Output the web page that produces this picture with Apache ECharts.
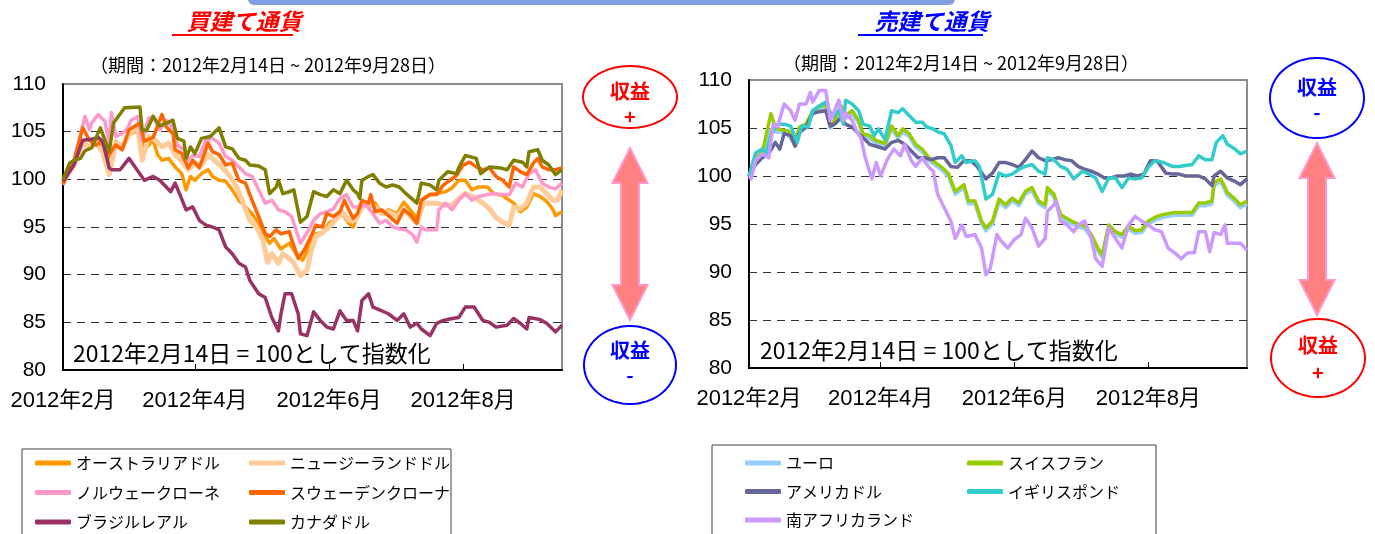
<!DOCTYPE html>
<html><head><meta charset="utf-8">
<script src="https://cdn.jsdelivr.net/npm/echarts@6/dist/echarts.min.js"></script>
<style>html,body{margin:0;padding:0;background:#fff}#c{width:1375px;height:534px}</style>
</head><body><div id="c"></div>
<script>
// ---- data (x = days since 2012-02-14, y = index, 2012-02-14 = 100) ----
const startDate = '2012-02-14';
const endDate = '2012-09-28';
const xTickDates = ['2012-02-14','2012-04-14','2012-06-14','2012-08-14'];
const yTicks = [80, 85, 90, 95, 100, 105, 110];

// 買建て通貨
const audDays = [0,5,9,12,15,18,21,24,27,30,35,37,41,43,45,48,51,54,56,58,60,63,66,68,71,74,77,80,83,86,89,92,94,96,99,103,106,109,112,115,118,121,124,127,130,132,134,136,139,142,145,148,152,155,158,161,164,167,170,174,177,180,183,186,189,193,196,200,205,208,211,214,217,220,223,224,227];
const audVals = [99.9,101.7,104.0,103.4,104.1,103.4,102.0,104.0,103.4,104.7,105.2,103.1,104.1,102.6,102.0,102.2,101.3,100.6,98.9,100.3,99.9,100.6,101.0,100.3,99.9,99.8,98.9,97.8,97.1,96.4,95.4,94.0,93.3,93.8,92.7,93.3,92.2,91.5,92.9,94.3,94.4,95.4,95.8,96.4,95.4,95.0,96.1,97.5,97.1,97.5,96.4,96.8,96.4,97.6,96.8,95.9,98.0,98.4,98.5,98.7,99.1,99.9,99.9,98.9,99.2,99.2,98.5,98.3,97.5,96.6,97.1,98.5,98.2,97.7,96.8,96.2,96.6];
const nzdDays = [0,5,9,12,15,18,21,24,27,30,34,36,39,42,45,48,51,54,57,60,63,66,69,73,76,79,82,85,88,91,93,95,98,100,103,105,108,111,113,115,118,121,124,127,130,133,136,139,142,145,148,152,155,158,161,164,167,170,174,177,180,183,188,191,194,197,200,203,205,208,211,214,217,220,223,225,227];
const nzdVals = [99.8,101.5,103.8,103.3,103.8,102.9,100.5,103.8,103.4,104.7,105.5,102.0,104.5,104.1,103.4,103.8,102.6,102.0,101.0,101.7,101.5,102.6,102.0,101.1,100.3,99.2,97.5,95.7,95.0,93.6,91.3,92.2,91.2,92.2,91.7,91.2,89.9,90.5,92.6,94.0,94.4,95.0,95.7,96.6,95.7,95.7,97.1,97.5,97.1,96.4,96.6,96.1,96.9,96.1,95.4,97.5,97.5,97.5,97.3,97.3,98.0,98.5,98.0,97.5,96.9,96.0,95.5,95.2,97.1,96.9,97.5,99.2,99.2,98.5,97.8,97.8,98.9];
const nokDays = [0,5,10,12,13,16,19,21,22,24,26,29,31,34,36,39,41,44,47,50,52,55,57,59,62,65,68,71,74,77,80,83,86,89,92,95,98,101,104,108,111,114,117,120,123,126,129,132,135,138,141,144,147,150,153,156,159,161,163,165,170,171,174,177,180,183,186,189,193,196,199,203,206,209,212,215,218,221,224,227];
const nokVals = [99.4,102.0,106.6,105.2,105.9,106.8,106.1,103.8,107.0,104.5,104.7,105.2,106.2,106.6,104.1,106.4,106.6,105.2,106.2,105.4,103.6,103.1,102.0,102.5,102.4,104.1,104.3,103.8,102.4,102.0,101.3,100.6,100.3,98.9,97.5,97.8,96.8,96.6,96.1,93.3,94.4,95.7,96.4,96.6,96.9,98.0,98.4,97.1,97.1,97.3,96.4,95.4,95.7,95.0,94.8,94.7,94.2,93.4,95.0,94.7,94.7,96.8,97.5,96.8,97.8,98.5,97.8,98.2,98.4,98.5,98.4,98.4,99.6,99.2,100.6,101.0,99.6,99.2,99.0,99.6];
const sekDays = [0,5,9,12,15,18,21,24,27,30,35,37,41,45,47,50,51,54,57,59,62,66,68,71,74,77,80,83,86,89,92,94,97,99,103,104,107,110,113,115,118,120,123,126,128,130,132,134,136,139,140,142,145,148,152,155,158,161,163,167,170,173,176,179,182,185,188,191,194,197,200,203,205,208,211,214,216,218,221,224,227];
const sekVals = [99.5,101.9,105.4,104.1,103.6,104.0,102.6,103.6,103.1,105.2,105.9,104.0,104.4,106.8,105.5,104.8,103.1,102.7,101.2,102.0,101.2,103.8,102.9,102.6,101.5,101.7,99.9,99.6,97.8,96.1,94.3,94.0,94.7,94.3,94.5,93.7,91.7,92.7,94.1,95.2,95.0,96.4,96.1,96.6,97.8,96.8,95.9,96.4,97.8,97.5,98.4,96.6,96.8,96.2,95.4,96.8,96.3,95.4,97.8,98.4,98.4,99.4,99.9,100.4,101.5,101.8,101.3,101.0,101.2,100.3,99.9,99.2,101.3,100.8,100.5,101.7,102.2,101.3,101.0,101.0,101.2];
const brlDays = [0,5,9,13,16,18,19,21,22,26,30,37,41,44,47,49,51,53,56,59,62,65,68,71,74,77,80,83,85,89,92,95,98,99,101,104,107,108,111,114,117,120,123,126,129,132,134,136,139,141,144,148,152,155,158,161,163,167,170,173,177,180,183,187,191,194,197,202,205,208,211,212,217,220,224,227];
const brlVals = [99.8,101.5,104.1,104.2,104.4,104.0,103.1,101.2,101.0,101.0,102.2,99.9,100.3,99.9,99.2,98.7,99.6,98.5,96.8,97.1,95.7,95.2,95.0,94.7,92.9,92.2,91.2,90.8,89.4,88.0,87.6,85.5,84.1,85.7,88.0,88.0,85.9,83.8,83.6,86.1,85.2,84.5,84.3,86.2,85.2,85.2,84.1,87.3,88.0,86.6,86.3,85.9,85.2,85.9,84.5,84.9,84.3,83.6,84.9,85.2,85.4,85.5,86.6,86.6,85.2,85.0,84.5,84.7,85.4,84.9,84.3,85.5,85.3,84.9,84.0,84.7];
const cadDays = [0,3,5,8,10,13,17,21,23,28,35,36,38,41,44,47,50,52,55,56,58,60,63,67,71,74,77,80,83,85,89,92,94,97,98,100,103,105,108,111,114,117,120,123,126,129,132,134,135,136,139,141,144,147,150,153,156,161,163,167,170,171,175,179,180,183,188,190,194,199,202,205,209,211,212,216,218,221,224,227];
const cadVals = [100,101.7,102.0,102.2,103.0,103.3,105.4,102.9,105.9,107.5,107.6,105.2,105.1,106.6,105.6,105.9,106.2,104.3,104.0,102.2,103.4,102.7,104.3,104.5,105.4,103.4,103.2,102.2,102.0,101.5,101.4,101.0,98.5,99.2,99.9,98.5,98.7,98.9,95.5,96.1,98.7,98.4,98.2,98.9,98.5,99.9,98.9,98.5,98.0,99.9,100.3,100.5,99.6,99.2,99.4,99.2,98.5,97.5,99.6,99.4,98.9,99.9,100.8,100.6,101.2,102.5,102.2,100.6,101.3,101.2,101.0,102.0,101.8,101.3,102.9,103.1,102.0,101.5,100.5,101.0];

// 売建て通貨
const eurDays = [0,3,6,10,12,15,18,21,23,26,29,32,35,37,39,42,44,47,50,52,55,58,62,65,68,70,73,76,79,82,85,88,91,94,98,100,103,106,108,111,114,117,120,123,126,129,132,135,136,139,142,144,147,150,153,156,159,161,164,167,170,173,176,179,182,186,189,194,199,202,205,208,211,212,215,217,218,221,224,227];
const eurVals = [100,101.7,102.2,104.8,104.6,104.5,104.3,103.2,104.8,105.0,106.5,106.9,107.2,105.0,105.5,107.0,106.0,106.5,105.5,104.1,103.9,103.4,103.1,104.9,103.9,104.6,104.1,103.0,102.5,101.6,101.1,100.6,99.9,98.1,98.8,97.1,97.1,95.0,94.3,95.0,97.3,96.7,97.4,96.9,98.1,98.5,97.1,96.7,98.5,97.8,95.7,95.4,95.0,94.7,94.5,93.6,92.2,91.5,94.6,93.9,93.6,94.5,94.0,94.1,95.0,95.5,95.7,95.9,95.9,95.9,96.9,96.9,97.1,99.0,99.4,98.5,98.0,97.4,96.7,97.1];
const chfDays = [0,3,6,10,12,15,18,21,23,26,29,32,35,37,39,42,44,47,50,52,55,58,62,65,68,70,73,76,79,82,85,88,91,94,98,100,103,106,108,111,114,117,120,123,126,129,132,135,136,139,142,144,147,150,153,156,159,161,164,167,170,173,176,179,182,186,189,194,199,202,205,208,211,212,215,217,218,221,224,227];
const chfVals = [100,101.9,102.4,106.5,105.0,104.8,104.7,103.5,105.1,105.4,106.8,107.2,107.5,105.2,105.8,107.3,106.3,106.8,105.8,104.4,104.2,103.7,103.4,105.2,104.2,104.9,104.4,103.3,102.8,101.9,101.4,100.9,100.2,98.4,99.1,97.4,97.4,95.3,94.6,95.3,97.6,97.0,97.7,97.2,98.4,98.8,97.4,97.0,98.8,98.1,96.0,95.7,95.3,95.0,94.8,93.9,92.5,91.8,94.9,94.2,93.9,94.8,94.3,94.4,95.3,95.8,96.0,96.2,96.2,96.2,97.2,97.2,97.4,99.3,99.7,98.8,98.3,97.7,97.0,97.4];
const usdDays = [0,3,6,9,12,14,16,19,21,23,26,29,32,35,37,39,42,44,47,50,52,55,58,62,65,68,71,74,77,80,83,86,89,92,95,98,101,104,108,111,114,117,120,123,126,129,132,135,138,141,144,147,150,153,156,159,162,165,168,171,174,177,180,183,186,190,193,196,199,202,205,208,211,212,215,218,221,224,227];
const usdVals = [100,101.2,101.9,102.3,103.5,102.8,104.4,104.2,103.1,104.5,105.1,106.5,106.7,106.8,105.2,105.4,106.1,105.4,105.1,104.4,104.0,103.3,103.1,102.8,103.5,103.7,103.3,102.6,101.9,101.9,101.7,101.9,101.9,101.0,100.9,101.6,101.6,101.0,99.7,100.3,101.4,101.4,101.2,100.9,101.7,102.6,101.9,101.6,101.7,101.9,101.7,101.6,101.0,100.7,100.5,100.2,99.8,99.8,100.0,100.0,100.2,100.0,100.2,101.6,101.6,100.3,100.2,100.2,100.0,100.0,100.0,99.7,99.0,100.0,100.5,99.8,99.5,99.1,99.7];
const gbpDays = [0,3,6,8,10,13,16,19,22,24,27,29,32,35,38,41,43,44,47,50,52,55,57,59,62,65,68,70,73,76,79,81,84,86,89,92,94,97,99,103,105,108,111,114,117,120,123,126,129,132,135,136,139,142,145,148,152,155,158,161,164,167,170,173,176,179,182,185,189,193,196,202,205,208,211,213,216,218,221,224,227];
const gbpVals = [100,102.4,102.8,102.4,104.4,105.4,105.4,105.2,103.5,105.2,105.1,106.8,107.3,107.7,106.1,106.8,105.4,107.9,107.5,106.8,105.4,105.2,104.2,104.9,103.8,106.8,106.6,107.0,106.3,105.6,105.6,105.1,104.9,104.6,104.4,103.2,101.4,102.1,101.4,101.6,101.0,97.6,98.1,100.3,100.0,100.2,100.7,101.0,101.2,100.5,100.2,101.9,101.7,101.0,100.7,99.7,100.5,100.2,99.8,98.4,99.8,99.8,98.8,99.8,99.7,99.8,100.9,101.6,101.4,101.0,101.0,101.2,102.1,101.7,101.7,103.5,104.2,103.3,102.9,102.3,102.6];
const zarDays = [0,1,3,6,9,11,13,16,19,21,23,26,28,29,32,35,37,39,41,43,44,47,49,51,53,56,58,60,63,66,69,71,74,76,79,82,84,86,89,92,94,97,99,103,106,108,110,113,115,118,121,124,126,129,132,135,136,139,140,142,145,148,150,153,156,158,161,164,167,170,173,176,179,182,185,188,191,194,197,200,203,205,208,210,212,215,217,218,221,224,227];
const zarVals = [100,99.7,101.6,102.3,101.9,105.4,105.1,107.5,106.8,105.8,107.5,107.5,108.7,107.7,108.9,108.9,105.8,106.8,107.9,105.8,106.6,105.8,104.7,104.0,101.9,99.7,101.4,100.0,101.7,102.8,102.1,103.3,101.6,101.0,101.9,100.9,100.5,98.1,96.7,95.3,93.5,94.9,93.7,93.9,92.5,89.7,90.4,93.9,93.2,92.5,93.4,93.9,95.6,94.6,92.7,93.5,96.3,97.0,97.4,95.3,94.9,94.2,94.9,95.3,93.5,91.4,90.6,94.6,93.5,92.5,94.9,95.8,95.3,94.9,94.4,94.2,92.5,92.0,91.4,92.0,92.0,94.2,94.2,92.1,94.1,93.9,94.9,93.0,93.0,93.0,92.3];

const buyNames = ['オーストラリアドル','ニュージーランドドル','ノルウェークローネ','スウェーデンクローナ','ブラジルレアル','カナダドル'];
const sellNames = ['ユーロ','スイスフラン','アメリカドル','イギリスポンド','南アフリカランド'];
const buyDays = [audDays, nzdDays, nokDays, sekDays, brlDays, cadDays];
const buyVals = [audVals, nzdVals, nokVals, sekVals, brlVals, cadVals];
const sellDays = [eurDays, chfDays, usdDays, gbpDays, zarDays];
const sellVals = [eurVals, chfVals, usdVals, gbpVals, zarVals];
const buyColors = ['#FF9900','#FFCC99','#FF99CC','#FF6600','#993366','#808000'];
const sellColors = ['#99CCFF','#99CC00','#666699','#33CCCC','#CC99FF'];

// ---- chart ----
const CJK = '"Noto Sans CJK JP"';
const LAT = '"Liberation Sans", "Noto Sans CJK JP"';
const DAY = 86400000;
function ts(s){ const p = s.split('-').map(Number); return Date.UTC(p[0], p[1]-1, p[2]); }
const t0 = ts(startDate);
function dayOf(s){ return Math.round((ts(s)-t0)/DAY); }
const tickDays = xTickDates.map(dayOf);

function xAxisCfg(gi){
  return {
    type:'value', gridIndex:gi, min:0, max:dayOf(endDate),
    axisLine:{show:true, lineStyle:{color:'#000', width:2}},
    axisTick:{show:true, inside:true, length:6, customValues:tickDays, lineStyle:{color:'#000', width:1}},
    axisLabel:{customValues:tickDays, hideOverlap:false, margin:20, fontSize:22, fontFamily:LAT, color:'#000',
      formatter:(v)=>{const d=new Date(t0+v*DAY); return d.getUTCFullYear()+'年'+(d.getUTCMonth()+1)+'月';}},
    splitLine:{show:false}
  };
}
function yAxisCfg(gi){
  return {
    type:'value', gridIndex:gi, min:yTicks[0], max:yTicks[yTicks.length-1], interval:5,
    axisLine:{show:true, lineStyle:{color:'#000', width:2}},
    axisTick:{show:false},
    axisLabel:{margin:17, fontSize:21, fontFamily:LAT, color:'#000'},
    splitLine:{show:true, lineStyle:{type:[8,6], width:1,
      color:yTicks.map((t,i)=> (i===0||i===yTicks.length-1)?'rgba(0,0,0,0)':'#333')}}
  };
}
function mkSeries(names, daysArr, valsArr, colors, gi){
  return names.map((n,i)=>{
    if (daysArr[i].length !== valsArr[i].length) throw new Error('length mismatch: '+n);
    return {
      type:'line', name:n, xAxisIndex:gi, yAxisIndex:gi,
      data: daysArr[i].map((d,k)=>[d, valsArr[i][k]]),
      showSymbol:false, symbol:'none', silent:true,
      lineStyle:{width: n==='ニュージーランドドル'?5:3.5, color:colors[i], join:'round'},
      itemStyle:{color:colors[i]}, z: 2+i
    };
  });
}
function mkLegend(names, left, top, gap){
  return {data:names, orient:'vertical', left, top, padding:0, height:120, itemWidth:36, itemHeight:5, itemGap:gap,
    icon:'roundRect', selectedMode:false,
    textStyle:{fontSize:16, fontFamily:CJK, color:'#000', lineHeight:20}};
}
function ellipsePts(cx, cy, rx, ry){
  const p=[]; for(let i=0;i<90;i++){const a=i/90*Math.PI*2; p.push([cx+rx*Math.cos(a), cy+ry*Math.sin(a)]);} return p;
}
function arrowPts(cx, top, hb1, hb2, bot, hw, sw){
  return [[cx,top],[cx+hw,hb1],[cx+sw,hb1],[cx+sw,hb2],[cx+hw,hb2],[cx,bot],[cx-hw,hb2],[cx-sw,hb2],[cx-sw,hb1],[cx-hw,hb1]];
}
function txt(x,y,t,fill,size,extra){
  return {type:'text', x, y, z:10, style:Object.assign({text:t, fill, fontSize:size, fontFamily:CJK, align:'center', verticalAlign:'middle'}, extra||{})};
}
function badge(cx, cy, rx, ry, color, ty1, ty2, sign){
  return [
    {type:'polygon', shape:{points:ellipsePts(cx,cy,rx,ry)}, style:{fill:'#fff', stroke:color, lineWidth:2}, z:5},
    txt(cx, ty1, '収益', color, 20, {fontWeight:'bold'}),
    txt(cx, ty2, sign, color, 20, {fontWeight:'bold'})
  ];
}

const graphics = [
  {type:'rect', shape:{x:248, y:-10, width:707, height:15, r:6}, style:{fill:'#7f9fe0'}},
  txt(244, 21, '買建て通貨', '#ff0000', 23, {fontWeight:'bold', fontStyle:'italic'}),
  {type:'line', shape:{x1:172, y1:35, x2:293, y2:35}, style:{stroke:'#ff0000', lineWidth:2}},
  txt(932, 21, '売建て通貨', '#0000ff', 23, {fontWeight:'bold', fontStyle:'italic'}),
  {type:'line', shape:{x1:858, y1:35, x2:983, y2:35}, style:{stroke:'#0000ff', lineWidth:2}},
  txt(268, 65, '（期間：2012年2月14日 ~ 2012年9月28日）', '#000', 18),
  txt(961, 63, '（期間：2012年2月14日 ~ 2012年9月28日）', '#000', 18),
  txt(73, 353, '2012年2月14日 = 100として指数化', '#000', 23, {align:'left'}),
  txt(760, 350, '2012年2月14日 = 100として指数化', '#000', 23, {align:'left'}),
  {type:'polygon', shape:{points:arrowPts(630,148,183,285,320,17.5,9)}, style:{fill:'#FF8080', stroke:'#FF99CC', lineWidth:2}},
  {type:'polygon', shape:{points:arrowPts(1317,143,178,280,315,17.5,9)}, style:{fill:'#FF8080', stroke:'#FF99CC', lineWidth:2}},
  ...badge(630, 97, 47, 31, '#ff0000', 91, 116, '+'),
  ...badge(630, 365, 46, 39, '#0000ff', 350, 375, '-'),
  ...badge(1317, 98, 47, 40, '#0000ff', 87, 112, '-'),
  ...badge(1318, 358, 47, 39, '#ff0000', 345, 372, '+'),
  {type:'rect', shape:{x:22, y:449, width:429, height:120}, style:{fill:'none', stroke:'#404040', lineWidth:1}},
  {type:'rect', shape:{x:712, y:445, width:444, height:120}, style:{fill:'none', stroke:'#404040', lineWidth:1}}
];

const chart = echarts.init(document.getElementById('c'), null, {renderer:'canvas'});
chart.setOption({
  animation:false,
  backgroundColor:'#fff',
  grid:[
    {left:63, right:1375-562, top:84, height:286, show:true, borderColor:'#8c8c8c', borderWidth:2, backgroundColor:'#fff'},
    {left:749, right:1375-1247, top:80, height:288, show:true, borderColor:'#8c8c8c', borderWidth:2, backgroundColor:'#fff'}
  ],
  xAxis:[xAxisCfg(0), xAxisCfg(1)],
  yAxis:[yAxisCfg(0), yAxisCfg(1)],
  legend:[
    mkLegend([buyNames[0], buyNames[2], buyNames[4]], 35, 453, 9.5),
    mkLegend([buyNames[1], buyNames[3], buyNames[5]], 249, 453, 9.5),
    mkLegend([sellNames[0], sellNames[2], sellNames[4]], 745, 453, 8.5),
    mkLegend([sellNames[1], sellNames[3]], 967, 453, 8.5)
  ],
  series:[...mkSeries(buyNames, buyDays, buyVals, buyColors, 0), ...mkSeries(sellNames, sellDays, sellVals, sellColors, 1)],
  graphic:graphics
});
</script></body></html>
